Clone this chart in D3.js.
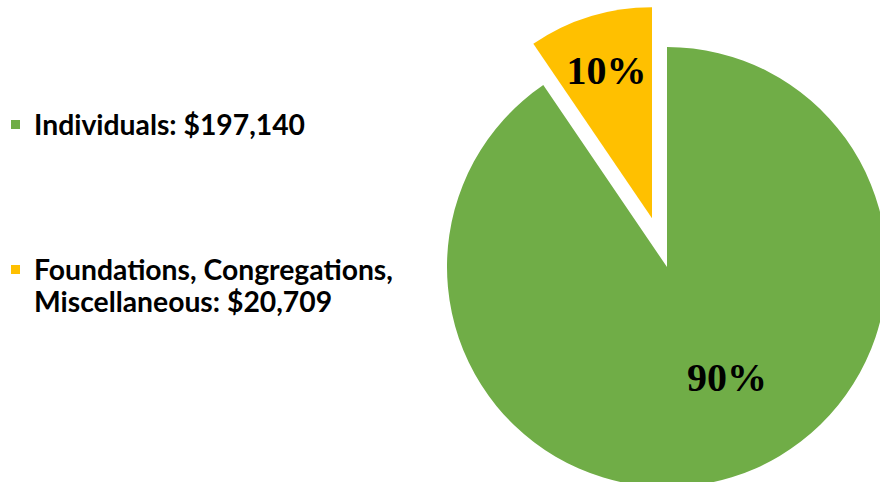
<!DOCTYPE html>
<html lang="en">
<head>
<meta charset="utf-8">
<script src="https://d3js.org/d3.v7.min.js"></script>
<title>Donations</title>
<style>
  body { margin: 0; background: #fff; }
  svg { display: block; }
  .legend text { font-family: Lato, "Open Sans", sans-serif; font-weight: bold; fill: #000; }
  .pct { font-family: "Liberation Serif", "Times New Roman", serif; font-weight: bold; fill: #000; }
</style>
</head>
<body>
<script>

// data
var categories = ["Individuals", "Foundations, Congregations, Miscellaneous"];
var amounts = [197140, 20709];
var legendLines = [["Individuals: $197,140"], ["Foundations, Congregations,", "Miscellaneous: $20,709"]];
var colors = ["#70AD47", "#FFC000"];

var width = 880, height = 482;

var svg = d3.select("body").append("svg")
  .attr("width", width)
  .attr("height", height);

// pie
var cx = 667, cy = 267, r = 220;
var explode = [0, 51];
var radii = [r, 211];

var pie = d3.pie().sort(null).value(function(d){ return d; });
var slices = pie(amounts);
var total = d3.sum(amounts);

var g = svg.append("g").attr("transform", "translate(" + cx + "," + cy + ")");

var sliceG = g.selectAll("g.slice").data(slices).enter().append("g")
  .attr("class", "slice")
  .attr("transform", function(d, i){
    var mid = (d.startAngle + d.endAngle) / 2;
    return "translate(" + (Math.sin(mid) * explode[i]) + "," + (-Math.cos(mid) * explode[i]) + ")";
  });

sliceG.append("path")
  .attr("d", function(d, i){
    return d3.arc().innerRadius(0).outerRadius(radii[i])(d);
  })
  .attr("fill", function(d, i){ return colors[i]; });

// percent labels
var fmt = d3.format(".0%");
var labelPos = [
  function(d){ return [60, 110]; },
  function(d){ return d3.arc().innerRadius(100).outerRadius(210).centroid(d); }
];

sliceG.append("text")
  .attr("class", "pct")
  .attr("text-anchor", "middle")
  .attr("dominant-baseline", "central")
  .attr("font-size", 40)
  .attr("x", function(d, i){ return labelPos[i](d)[0]; })
  .attr("y", function(d, i){ return labelPos[i](d)[1]; })
  .text(function(d){ return fmt(Math.round(d.value / total * 10) / 10); });

// legend
var legendY = [120, 265];
var legend = svg.append("g").attr("class", "legend");
var item = legend.selectAll("g").data(categories).enter().append("g")
  .attr("transform", function(d, i){ return "translate(11," + legendY[i] + ")"; });

item.append("rect")
  .attr("width", 9).attr("height", 9)
  .attr("fill", function(d, i){ return colors[i]; });

item.append("text")
  .attr("x", 23)
  .attr("font-size", 28.3)
  .selectAll("tspan").data(function(d, i){ return legendLines[i]; }).enter().append("tspan")
  .attr("x", 23)
  .attr("y", function(d, j){ return 15 + j * 32; })
  .text(function(d){ return d; });

</script>
</body>
</html>
